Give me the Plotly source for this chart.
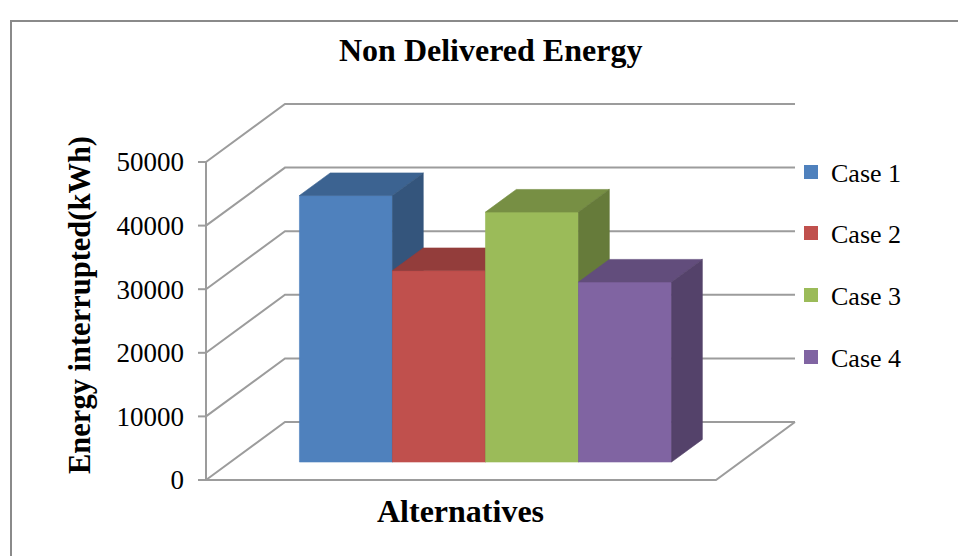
import plotly.graph_objects as go

# ---- data -------------------------------------------------------------
series_names = ["Case 1", "Case 2", "Case 3", "Case 4"]
energy_kwh = [41900, 30100, 39300, 28300]
y_ticks = [0, 10000, 20000, 30000, 40000, 50000]
y_tick_text = ["0", "10000", "20000", "30000", "40000", "50000"]
chart_title = "Non Delivered Energy"
value_title = "Energy interrupted(kWh)"
category_title = "Alternatives"
series_colors = ["#4F81BD", "#C0504D", "#9BBB59", "#8064A2"]

# ---- page / plot geometry (pixels) -------------------------------------
W, H = 958, 556
PLOT_L, PLOT_R, PLOT_T, PLOT_B = 196, 797, 102, 482
AXIS_X_PX, FLOOR_Y_PX = 206, 480          # front-left-bottom corner of the box
X_PX = 510.0                              # pixels per category unit
Y_PX = 318.0 / 50000                      # pixels per kWh
DEPTH_X_PX, DEPTH_Y_PX = 79.0, 58.0       # oblique depth offset of the box

DXU = DEPTH_X_PX / X_PX                   # depth offset in x units
DYV = DEPTH_Y_PX / Y_PX                   # depth offset in kWh units
x_range = [-(AXIS_X_PX - PLOT_L) / X_PX, (PLOT_R - AXIS_X_PX) / X_PX]
y_range = [-(PLOT_B - FLOOR_Y_PX) / Y_PX, (FLOOR_Y_PX - PLOT_T) / Y_PX]

BAR_W = 0.1824                            # width of one column (x units)
D0, D1 = 0.31, 0.70                       # column depth span (fraction of box depth)

FONT = "Times New Roman, Liberation Serif, serif"
GRID = "#9c9c9c"


def px_x(p):
    return (p - PLOT_L) / (PLOT_R - PLOT_L)


def px_y(p):
    return (PLOT_B - p) / (PLOT_B - PLOT_T)


def proj(x, v, d):
    """Oblique projection of (x, value, depth) onto the 2-D axes."""
    return x + d * DXU, v + d * DYV


def shade(hex_color, f):
    h = hex_color.lstrip("#")
    r, g, b = (int(h[i:i + 2], 16) for i in (0, 2, 4))
    return "#%02x%02x%02x" % (int(r * f), int(g * f), int(b * f))


fig = go.Figure()

# ---- box: axis line, tick marks, side wall, back wall, floor -------------
gx, gy = [], []
top_tick = max(y_ticks)
gx += [0, 0, None]
gy += [0, top_tick, None]
for v in y_ticks:
    gx += [-8 / X_PX, 0, None]
    gy += [v, v, None]
    ax0, ay0 = proj(0, v, 0)
    ax1, ay1 = proj(0, v, 1)
    bx1, _ = proj(1, v, 1)
    gx += [ax0, ax1, bx1, None]
    gy += [ay0, ay1, ay1, None]
fx = [proj(0, 0, 0)[0], proj(1, 0, 0)[0], proj(1, 0, 1)[0]]
fy = [proj(0, 0, 0)[1], proj(1, 0, 0)[1], proj(1, 0, 1)[1]]
gx += fx
gy += fy
fig.add_trace(go.Scatter(x=gx, y=gy, mode="lines", line=dict(color=GRID, width=2),
                         hoverinfo="skip", showlegend=False))

# ---- 3-D columns ------------------------------------------------------
n = len(energy_kwh)
x_start = (1 - n * BAR_W) / 2


def face(pts, color):
    xs = [p[0] for p in pts] + [pts[0][0]]
    ys = [p[1] for p in pts] + [pts[0][1]]
    fig.add_trace(go.Scatter(x=xs, y=ys, mode="lines", fill="toself",
                             fillcolor=color, line=dict(color=color, width=0.6),
                             hoverinfo="skip", showlegend=False))


for i, (val, col) in enumerate(zip(energy_kwh, series_colors)):
    x0 = x_start + i * BAR_W
    x1 = x0 + BAR_W
    face([proj(x0, 0, D0), proj(x1, 0, D0), proj(x1, val, D0), proj(x0, val, D0)], col)
    face([proj(x0, val, D0), proj(x1, val, D0), proj(x1, val, D1), proj(x0, val, D1)],
         shade(col, 0.77))
    face([proj(x1, 0, D0), proj(x1, val, D0), proj(x1, val, D1), proj(x1, 0, D1)],
         shade(col, 0.66))

# ---- legend (one legend per entry, stacked on the right) --------------
legend_rows_px = [172, 233, 295, 357]
legend_left_px = 791
legend_layout = {}
for i, (name, col) in enumerate(zip(series_names, series_colors)):
    key = "legend" if i == 0 else "legend%d" % (i + 1)
    fig.add_trace(go.Scatter(x=[None], y=[None], mode="markers", name=name,
                             marker=dict(symbol="square", size=14, color=col),
                             legend=key, showlegend=True))
    legend_layout[key] = dict(
        x=px_x(legend_left_px), y=px_y(legend_rows_px[i]),
        xanchor="left", yanchor="middle", bgcolor="rgba(0,0,0,0)",
        borderwidth=0, font=dict(family=FONT, size=26, color="#000000"),
    )

fig.update_layout(
    width=W, height=H,
    margin=dict(l=PLOT_L, r=W - PLOT_R, t=PLOT_T, b=H - PLOT_B, autoexpand=False),
    paper_bgcolor="#ffffff", plot_bgcolor="rgba(0,0,0,0)",
    showlegend=True,
    xaxis=dict(range=x_range, visible=False, fixedrange=True),
    yaxis=dict(range=y_range, tickvals=y_ticks, ticktext=y_tick_text, ticks="",
               showgrid=False, zeroline=False, showline=False, ticklabelstandoff=11,
               tickfont=dict(family=FONT, size=27, color="#000000"), fixedrange=True),
    annotations=[
        dict(text="<b>%s</b>" % chart_title, x=px_x(490), y=px_y(50), xref="paper",
             yref="paper", showarrow=False, xanchor="center", yanchor="middle",
             font=dict(family=FONT, size=32, color="#000000")),
        dict(text="<b>%s</b>" % category_title, x=px_x(460), y=px_y(511), xref="paper",
             yref="paper", showarrow=False, xanchor="center", yanchor="middle",
             font=dict(family=FONT, size=32, color="#000000")),
        dict(text="<b>%s</b>" % value_title, x=px_x(80), y=px_y(305), xref="paper",
             yref="paper", showarrow=False, xanchor="center", yanchor="middle",
             textangle=-90, font=dict(family=FONT, size=30.5, color="#000000")),
    ],
    shapes=[
        dict(type="rect", xref="paper", yref="paper", x0=px_x(11), y0=px_y(21),
             x1=px_x(W + 20), y1=px_y(H + 20), line=dict(color="#8a8a8a", width=2),
             fillcolor="rgba(0,0,0,0)", layer="below"),
    ],
    **legend_layout,
)

fig.write_html("out.html")
